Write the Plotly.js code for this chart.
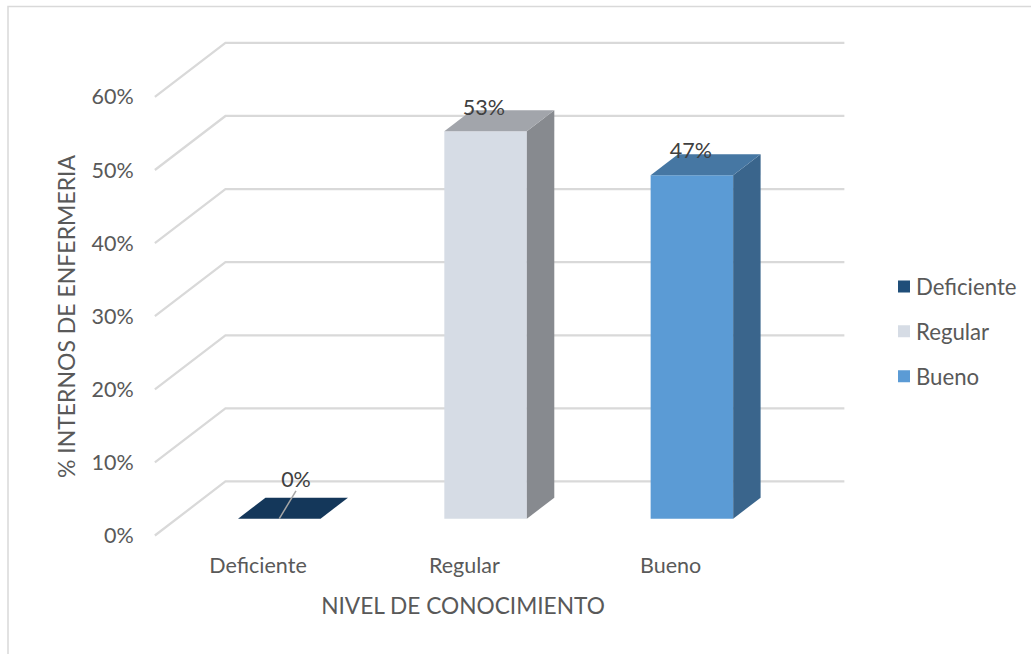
<!DOCTYPE html>
<html>
<head>
<meta charset="utf-8">
<script src="https://cdn.plot.ly/plotly-3.0.1.min.js"></script>
<style>html,body{margin:0;padding:0;background:#fff}</style>
</head>
<body>
<div id="chart" style="width:1031px;height:654px"></div>
<script>
// Data
const categories = ['Deficiente', 'Regular', 'Bueno'];
const values = [0, 53, 47];
const valueTicks = [0, 10, 20, 30, 40, 50, 60];
const frontColors = ['#1f4e79', '#d6dce5', '#5b9bd5'];
const topColors = ['#14375a', '#a2a5ab', '#4677a3'];
const sideColors = ['#14375a', '#878a8f', '#3a658c'];
const labelOffsetX = [0.184, 0.095, 0.098];
const labelOffsetY = [7.4, 5.3, 5.4];

// Oblique projection, in axis units
const wallDX = 0.342, wallDY = 7.39;
const barW = 0.4, barShiftX = 0.103, barShiftY = 2.3, barDX = 0.133, barDY = 2.87;
const xLeft = -0.5, xRight = 2.5;

const traces = [];
categories.forEach((c, i) => {
  const x0 = i + barShiftX - barW / 2, x1 = x0 + barW;
  const yb = barShiftY, yt = barShiftY + values[i];
  // side face
  if (values[i] > 0) {
    traces.push({type: 'scatter', mode: 'lines', fill: 'toself', fillcolor: sideColors[i],
      line: {width: 0}, showlegend: false, hoverinfo: 'skip',
      x: [x1, x1 + barDX, x1 + barDX, x1, x1],
      y: [yb, yb + barDY, yt + barDY, yt, yb]});
  }
  // top face
  traces.push({type: 'scatter', mode: 'lines', fill: 'toself', fillcolor: topColors[i],
    line: {width: 0}, showlegend: false, hoverinfo: 'skip',
    x: [x0, x1, x1 + barDX, x0 + barDX, x0],
    y: [yt, yt, yt + barDY, yt + barDY, yt]});
  // front face + legend entry
  traces.push({type: 'bar', name: c, legendgroup: c, x: [i + barShiftX], y: [values[i]], base: [barShiftY],
    width: barW, marker: {color: frontColors[i], line: {width: 0}}, hoverinfo: 'skip'});
});
// leader line of the zero label
traces.push({type: 'scatter', mode: 'lines', showlegend: false, hoverinfo: 'skip',
  x: [barShiftX, labelOffsetX[0]], y: [barShiftY, labelOffsetY[0] - 1.3],
  line: {color: '#a6a6a6', width: 1.5}});
// data labels
traces.push({type: 'scatter', mode: 'text', showlegend: false, hoverinfo: 'skip',
  x: categories.map((c, i) => i + labelOffsetX[i]),
  y: values.map((v, i) => v + labelOffsetY[i]),
  text: values.map(v => v + '%'), textposition: 'middle center',
  textfont: {family: 'Lato, sans-serif', size: 21.5, color: '#404040'}});

// Gridlines on the side wall and back wall
const grid = valueTicks.map(v => ({
  type: 'path', xref: 'x', yref: 'y', layer: 'below',
  path: `M${xLeft},${v} L${xLeft + wallDX},${v + wallDY} L${xRight + wallDX},${v + wallDY}`,
  line: {color: '#d9d9d9', width: 2.25}
}));
const plotL = 74, plotW = 778, plotT = 38, plotB = 595, plotH = plotB - plotT;
const px = p => (p - plotL) / plotW, py = p => (plotB - p) / plotH;
const frame = {type: 'path', xref: 'paper', yref: 'paper', layer: 'below',
  path: `M${px(8)},${py(654)} L${px(8)},${py(6.5)} L${px(1031)},${py(6.5)}`,
  line: {color: '#d9d9d9', width: 1.5}};

const tickFont = {family: 'Lato, sans-serif', size: 21.5, color: '#595959'};
const layout = {
  width: 1031, height: 654, paper_bgcolor: '#fff', plot_bgcolor: 'rgba(0,0,0,0)',
  margin: {l: plotL, r: 1031 - plotL - plotW, t: plotT, b: 654 - plotB, autoexpand: false},
  barmode: 'overlay',
  shapes: grid.concat([frame]),
  xaxis: {
    domain: [0, 1], range: [-0.892, 2.879], anchor: 'free', position: py(535.5),
    tickmode: 'array', tickvals: [0, 1, 2], ticktext: categories,
    showgrid: false, zeroline: false, showline: false,
    ticks: 'outside', ticklen: 11, tickcolor: 'rgba(0,0,0,0)', tickfont: tickFont,
    title: {text: 'NIVEL DE CONOCIMIENTO', font: {family: 'Lato, sans-serif', size: 22.7, color: '#595959'}, standoff: 20}
  },
  yaxis: {
    domain: [0, 1], range: [-8.14, 68.06], anchor: 'free', position: px(155),
    tickmode: 'array', tickvals: valueTicks, ticktext: valueTicks.map(v => v + '%'),
    showgrid: false, zeroline: false, showline: false,
    ticks: 'outside', ticklen: 17, tickcolor: 'rgba(0,0,0,0)', tickfont: tickFont,
    title: {text: '% INTERNOS DE ENFERMERIA', font: {family: 'Lato, sans-serif', size: 23, color: '#595959'}, standoff: 8}
  },
  showlegend: true,
  legend: {x: px(876), y: py(265.5), yanchor: 'top', xanchor: 'left',
    tracegroupgap: 13, font: {family: 'Lato, sans-serif', size: 22.2, color: '#595959'},
    bgcolor: 'rgba(0,0,0,0)', traceorder: 'grouped'}
};
Plotly.newPlot('chart', traces, layout, {displayModeBar: false, staticPlot: true}).then(() => {
  document.querySelectorAll('.legend .legendpoints').forEach(g => g.setAttribute('transform', 'translate(8,0)'));
});
</script>
</body>
</html>
